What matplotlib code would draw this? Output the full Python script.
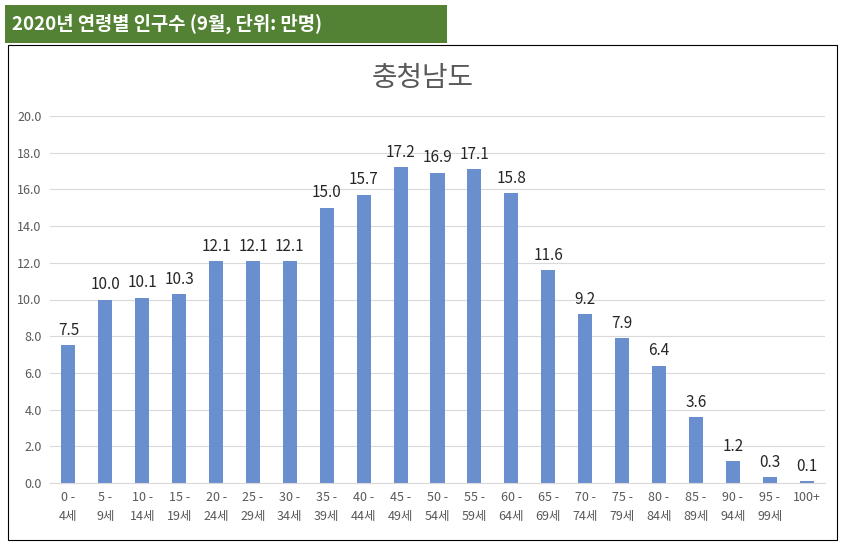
import matplotlib
matplotlib.use('Agg')
import matplotlib.pyplot as plt
from matplotlib.patches import Rectangle

plt.rcParams['font.family'] = ['Noto Sans CJK KR', 'DejaVu Sans']

age_labels = ['0 -\n4세', '5 -\n9세', '10 -\n14세', '15 -\n19세', '20 -\n24세', '25 -\n29세',
              '30 -\n34세', '35 -\n39세', '40 -\n44세', '45 -\n49세', '50 -\n54세', '55 -\n59세',
              '60 -\n64세', '65 -\n69세', '70 -\n74세', '75 -\n79세', '80 -\n84세', '85 -\n89세',
              '90 -\n94세', '95 -\n99세', '100+']
population = [7.5, 10.0, 10.1, 10.3, 12.1, 12.1, 12.1, 15.0, 15.7, 17.2, 16.9, 17.1,
              15.8, 11.6, 9.2, 7.9, 6.4, 3.6, 1.2, 0.3, 0.1]
yticks = [0, 2, 4, 6, 8, 10, 12, 14, 16, 18, 20]

W, H = 843, 551
fig = plt.figure(figsize=(W / 100, H / 100), dpi=100)

# chart frame
fig.patches.append(Rectangle((8 / W, 1 - 540 / H), 829 / W, 495 / H, transform=fig.transFigure,
                             fill=False, edgecolor='black', linewidth=0.8))
# green header
fig.patches.append(Rectangle((5 / W, 1 - 43 / H), 442 / W, 38 / H, transform=fig.transFigure,
                             facecolor='#548235', edgecolor='none'))
fig.text(12 / W, 1 - 24 / H, '2020년 연령별 인구수 (9월, 단위: 만명)', color='white',
         fontsize=13.5, fontweight='bold', va='center', ha='left')
fig.text(0.5 * (8 + 837) / W, 1 - 78 / H, '충청남도', color='#595959', fontsize=20,
         ha='center', va='center')

ax = fig.add_axes([50 / W, 1 - 483 / H, 775 / W, 367 / H])
x = range(len(population))
bars = ax.bar(x, population, width=0.38, color='#6a8fcf', zorder=2)
for xi, v in zip(x, population):
    ax.text(xi, v + 0.35, f'{v:.1f}', ha='center', va='bottom', fontsize=11, color='#262626')

ax.set_ylim(0, 20)
ax.set_xlim(-0.5, len(population) - 0.5)
ax.set_yticks(yticks)
ax.set_yticklabels([f'{t:.1f}' for t in yticks], fontsize=9, color='#595959')
ax.set_xticks(list(x))
ax.set_xticklabels(age_labels, fontsize=9, color='#595959', linespacing=1.6)
ax.tick_params(length=0, pad=6)
ax.grid(axis='y', color='#d9d9d9', linewidth=0.8, zorder=0)
for s in ['top', 'right', 'left']:
    ax.spines[s].set_visible(False)
ax.spines['bottom'].set_color('#d9d9d9')

fig.savefig('out.png', dpi=100)
